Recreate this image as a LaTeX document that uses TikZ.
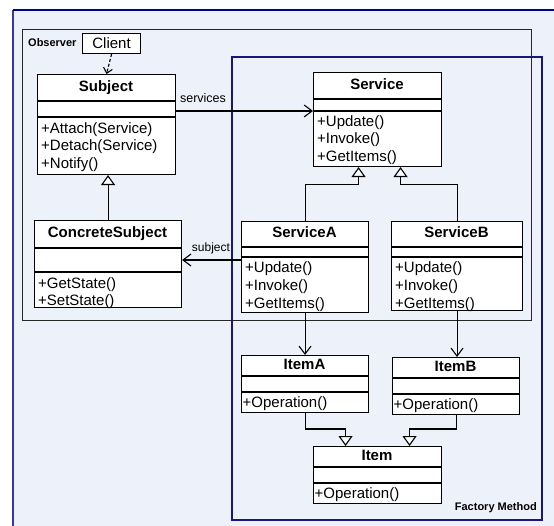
\documentclass[tikz,border=0pt]{standalone}
\usepackage{fontspec}
\setmainfont{Liberation Sans}
\usetikzlibrary{arrows.meta}
\definecolor{pagebg}{HTML}{EDF1F9}
\definecolor{outerblue}{HTML}{3A3A9E}
\definecolor{navy}{HTML}{16167E}

\begin{document}
\begin{tikzpicture}[x=1pt, y=-1pt,
    cls/.style={draw, fill=white, line width=1.1pt, inner sep=0pt, anchor=north west},
    ttl/.style={font=\fontsize{15}{18}\selectfont\bfseries, text height=11pt, text depth=3pt, inner sep=0pt},
    ops/.style={font=\fontsize{15}{17.8}\selectfont, align=left, anchor=north west, inner xsep=4pt, inner ysep=5pt},
    frametitle/.style={font=\fontsize{11}{13}\selectfont\bfseries, inner sep=0pt},
    assoc/.style={line width=1.1pt, -{Straight Barb[length=8pt,width=12pt]}},
    gen/.style={line width=1.1pt, -{Triangle[length=10pt,width=14pt,fill=white]}}]
        \clip (0,0) rectangle (554,526);
        \fill[pagebg] (13,10) rectangle (560,532);
        \draw[outerblue, line width=2.2pt] (13,532) -- (13,10);
        \draw[blue!60!black, line width=1.2pt] (13,10) -- (560,10);

        % package frames
        \node[draw=black!85, line width=1.2pt, minimum width=509pt, minimum height=291pt, anchor=north west, inner sep=0pt] (observer) at (22,29) {};
        \node[frametitle, anchor=west] (observer-lbl) at (28,43) {Observer};
        \node[draw=navy, line width=1.6pt, minimum width=310pt, minimum height=463pt, anchor=north west, inner sep=0pt] (factory) at (231,56) {};
        \node[frametitle, anchor=east] (factory-lbl) at (537,508) {Factory Method};

        % observer side
        \node[cls, minimum width=58pt, minimum height=20pt, font=\fontsize{15}{18}\selectfont] (client) at (82,33) {Client};
        \node[cls, minimum width=138pt, minimum height=100pt] (subject) at (37,74) {};
        \node[ttl] (subject-t) at (106,87.5) {Subject};
        \draw[line width=1.1pt] (37,101) -- (175,101) (37,117) -- (175,117);
        \node[ops] (subject-o) at (37,117) {+Attach(Service)\\+Detach(Service)\\+Notify()};

        \node[cls, minimum width=147pt, minimum height=87pt] (concrete) at (34,220) {};
        \node[ttl] (concrete-t) at (107.5,234) {ConcreteSubject};
        \draw[line width=1.1pt] (34,248) -- (181,248) (34,272) -- (181,272);
        \node[ops] (concrete-o) at (34,272) {+GetState()\\+SetState()};

        % factory side
        \node[cls, minimum width=128pt, minimum height=94pt] (service) at (313,72) {};
        \node[ttl] (service-t) at (377,85.5) {Service};
        \draw[line width=1.1pt] (313,99) -- (441,99) (313,111) -- (441,111);
        \node[ops, inner ysep=4pt] (service-o) at (313,111) {+Update()\\+Invoke()\\+GetItems()};

        \node[cls, minimum width=127pt, minimum height=91pt] (serviceA) at (241,221) {};
        \node[ttl] (serviceA-t) at (304.5,234) {ServiceA};
        \draw[line width=1.1pt] (241,247) -- (368,247) (241,257) -- (368,257);
        \node[ops, inner ysep=4.5pt] (serviceA-o) at (241,257) {+Update()\\+Invoke()\\+GetItems()};

        \node[cls, minimum width=131pt, minimum height=89pt] (serviceB) at (391,221) {};
        \node[ttl] (serviceB-t) at (456.5,234) {ServiceB};
        \draw[line width=1.1pt] (391,247) -- (522,247) (391,257) -- (522,257);
        \node[ops, inner ysep=4.5pt] (serviceB-o) at (391,257) {+Update()\\+Invoke()\\+GetItems()};

        \node[cls, minimum width=127pt, minimum height=57pt] (itemA) at (241,355) {};
        \node[ttl] (itemA-t) at (304.5,365.5) {ItemA};
        \draw[line width=1.1pt] (241,376) -- (368,376) (241,392) -- (368,392);
        \node[ops, inner xsep=1.5pt, inner ysep=4.5pt] (itemA-o) at (241,392) {+Operation()};

        \node[cls, minimum width=127pt, minimum height=57pt] (itemB) at (392,357) {};
        \node[ttl] (itemB-t) at (455.5,367.5) {ItemB};
        \draw[line width=1.1pt] (392,378) -- (519,378) (392,394) -- (519,394);
        \node[ops, inner xsep=1.5pt, inner ysep=4.5pt] (itemB-o) at (392,394) {+Operation()};

        \node[cls, minimum width=128pt, minimum height=57pt] (item) at (313,446) {};
        \node[ttl] (item-t) at (377,456.5) {Item};
        \draw[line width=1.1pt] (313,467) -- (441,467) (313,483) -- (441,483);
        \node[ops, inner xsep=1.5pt, inner ysep=4.5pt] (item-o) at (313,483) {+Operation()};

        % connectors
        \draw[line width=1.1pt, dash pattern=on 3pt off 2pt, -{Straight Barb[length=5pt,width=9pt]}] (client.south) -- (subject.north);
        \draw[gen] (concrete.north) -- (concrete.north |- subject.south);
        \draw[assoc] (subject.east |- 0,111) -- (service.west |- 0,111);
        \node[font=\fontsize{12.5}{15}\selectfont, inner sep=0pt] (services-lbl) at (203,98) {services};
        \draw[assoc] (serviceA.west |- 0,260) -- (concrete.east |- 0,260);
        \node[font=\fontsize{12}{14}\selectfont, inner sep=0pt] (subject-lbl) at (211,248) {subject};
        \draw[gen] (serviceA.north) |- ([xshift=-19pt,yshift=-17pt]service.south) -- ([xshift=-19pt]service.south);
        \draw[gen] (serviceB.north) |- ([xshift=23pt,yshift=-17pt]service.south) -- ([xshift=23pt]service.south);
        \draw[assoc] (serviceA.south) -- (serviceA.south |- itemA.north);
        \draw[assoc] (serviceB.south) -- (serviceB.south |- itemB.north);
        \draw[gen] (itemA.south) |- ([xshift=-32pt,yshift=17pt]item.north) -- ([xshift=-32pt]item.north);
        \draw[gen] (itemB.south) |- ([xshift=32pt,yshift=17pt]item.north) -- ([xshift=32pt]item.north);
      \end{tikzpicture}
\end{document}
